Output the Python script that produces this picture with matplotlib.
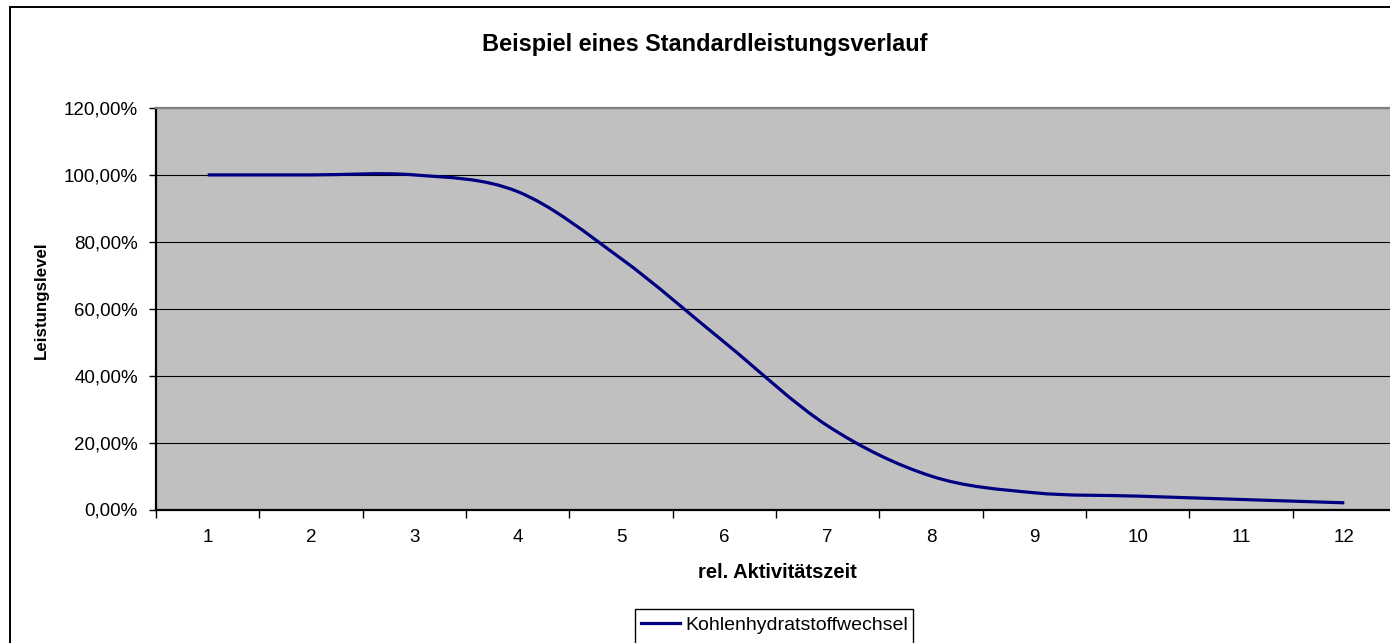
import numpy as np
import matplotlib
matplotlib.use('Agg')
import matplotlib.pyplot as plt
from matplotlib.path import Path
from matplotlib.patches import PathPatch, Rectangle
from matplotlib.lines import Line2D

plt.rcParams['font.family'] = ['Liberation Sans', 'DejaVu Sans']

# ---- data ----
categories = ['1', '2', '3', '4', '5', '6', '7', '8', '9', '10', '11', '12']
values = [100, 100, 100, 95, 75, 50, 25, 10, 5, 4, 3, 2]
series_name = 'Kohlenhydratstoffwechsel'
y_ticks = [0, 20, 40, 60, 80, 100, 120]
y_tick_labels = ['0,00%', '20,00%', '40,00%', '60,00%', '80,00%', '100,00%', '120,00%']
title = 'Beispiel eines Standardleistungsverlauf'
x_label = 'rel. Aktivitätszeit'
y_label = 'Leistungslevel'

W, H = 1390, 643
fig = plt.figure(figsize=(W / 100, H / 100), dpi=100)
fig.patch.set_facecolor('white')

# outer chart border (right and bottom edges lie outside the picture)
fig.patches.append(Rectangle((10 / W, -0.5), 2, 1.5 - 7 / H, transform=fig.transFigure,
                             fill=False, edgecolor='black', lw=1.4))

left, right, top, bottom = 156, 1396, 108, 509.5
ax = fig.add_axes([left / W, 1 - bottom / H, (right - left) / W, (bottom - top) / H])
ax.set_facecolor('#C0C0C0')

x = np.arange(1, len(categories) + 1)
ax.set_xlim(0.5, len(categories) + 0.5)
ax.set_ylim(0, 120)

# gridlines
ax.set_yticks(y_ticks)
ax.set_yticklabels(y_tick_labels)
ax.yaxis.grid(True, color='black', lw=0.8)
ax.set_axisbelow(True)

# smoothed line (Excel-style Bezier) via matplotlib Path
pts = np.column_stack([x, np.array(values, dtype=float)])
n = len(pts)
verts = [pts[0]]
codes = [Path.MOVETO]
for i in range(n - 1):
    p0 = pts[max(i - 1, 0)]
    p1 = pts[i]
    p2 = pts[i + 1]
    p3 = pts[min(i + 2, n - 1)]
    c1 = p1 + (p2 - p0) / 6.0
    c2 = p2 - (p3 - p1) / 6.0
    verts += [c1, c2, p2]
    codes += [Path.CURVE4] * 3
line_color = '#000080'
ax.add_patch(PathPatch(Path(verts, codes), fill=False, edgecolor=line_color,
                       lw=2.3, capstyle='butt', joinstyle='round', zorder=3))

# x axis: labels at centres, ticks at boundaries
ax.set_xticks(x)
ax.set_xticklabels(categories)
ax.set_xticks(np.arange(0.5, len(categories) + 1, 1.0), minor=True)
ax.tick_params(axis='x', which='major', length=0, pad=14, labelsize=13.5)
ax.tick_params(axis='x', which='minor', length=5.5, width=1, color='black', direction='out')
ax.tick_params(axis='y', which='major', length=5, width=1, color='black',
               direction='out', pad=8, labelsize=13.5)

for s in ['left', 'bottom']:
    ax.spines[s].set_color('black')
    ax.spines[s].set_linewidth(1.6)
ax.spines['top'].set_color('#808080')
ax.spines['top'].set_linewidth(1.6)
ax.spines['right'].set_visible(False)

# texts
fig.text(704.7 / W, 1 - 51 / H, title, ha='center', va='baseline',
         fontsize=16.9, fontweight='bold')
fig.text(777.5 / W, 1 - 578 / H, x_label, ha='center', va='baseline',
         fontsize=14.5, fontweight='bold')
fig.text(41 / W, 1 - 300 / H, y_label, ha='center', va='center', rotation=90,
         fontsize=12.2, fontweight='bold')

# legend (box runs past the bottom edge of the picture)
handle = Line2D([], [], color=line_color, lw=2.3)
leg = fig.legend([handle], [series_name], loc='upper left',
                 bbox_to_anchor=(641 / W, 1 - 616 / H), bbox_transform=fig.transFigure,
                 borderaxespad=0, borderpad=0.0, handlelength=2.0, handletextpad=0.3,
                 fontsize=14, frameon=False)
fig.patches.append(Rectangle((635 / W, -0.05), (913 - 635) / W, 0.05 + 1 - 609 / H,
                             transform=fig.transFigure, fill=False,
                             edgecolor='black', lw=1.0))

fig.savefig('out.png', dpi=100)
